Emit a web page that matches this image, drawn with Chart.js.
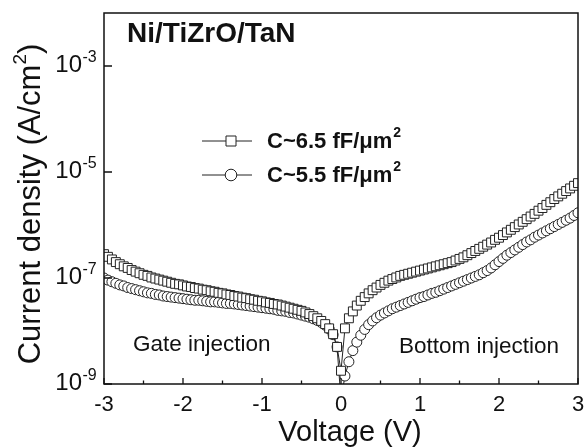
<!DOCTYPE html>
<html><head><meta charset="utf-8">
<script src="https://cdn.jsdelivr.net/npm/chart.js@4.4.0/dist/chart.umd.min.js"></script>
<style>html,body{margin:0;padding:0;background:#fff}#wrap{width:586px;height:448px}</style>
</head><body><div id="wrap"><canvas id="c" width="586" height="448"></canvas></div>
<script>
// ---- data ----
const voltage = [-3,-2.95,-2.9,-2.85,-2.8,-2.75,-2.7,-2.65,-2.6,-2.55,-2.5,-2.45,-2.4,-2.35,-2.3,-2.25,-2.2,-2.15,-2.1,-2.05,
-2,-1.95,-1.9,-1.85,-1.8,-1.75,-1.7,-1.65,-1.6,-1.55,-1.5,-1.45,-1.4,-1.35,-1.3,-1.25,-1.2,-1.15,-1.1,-1.05,
-1,-0.95,-0.9,-0.85,-0.8,-0.75,-0.7,-0.65,-0.6,-0.55,-0.5,-0.45,-0.4,-0.35,-0.3,-0.25,-0.2,-0.15,-0.1,-0.05,
0,0.05,0.1,0.15,0.2,0.25,0.3,0.35,0.4,0.45,0.5,0.55,0.6,0.65,0.7,0.75,0.8,0.85,0.9,0.95,
1,1.05,1.1,1.15,1.2,1.25,1.3,1.35,1.4,1.45,1.5,1.55,1.6,1.65,1.7,1.75,1.8,1.85,1.9,1.95,
2,2.05,2.1,2.15,2.2,2.25,2.3,2.35,2.4,2.45,2.5,2.55,2.6,2.65,2.7,2.75,2.8,2.85,2.9,2.95,3];

// log10 of current density (A/cm^2)
const logJ_6p5 = [-6.55,-6.60,-6.65,-6.70,-6.74,-6.78,-6.81,-6.85,-6.88,-6.91,
-6.94,-6.96,-6.99,-7.01,-7.03,-7.05,-7.07,-7.09,-7.11,-7.12,
-7.14,-7.16,-7.17,-7.19,-7.20,-7.22,-7.23,-7.25,-7.26,-7.28,
-7.29,-7.31,-7.32,-7.34,-7.35,-7.37,-7.38,-7.40,-7.41,-7.43,
-7.44,-7.46,-7.47,-7.49,-7.50,-7.52,-7.54,-7.56,-7.58,-7.60,
-7.62,-7.65,-7.68,-7.72,-7.76,-7.81,-7.87,-7.95,-8.06,-8.30,
-8.75,
-7.95,-7.76,-7.63,-7.52,-7.43,-7.36,-7.29,-7.23,-7.18,-7.13,
-7.09,-7.05,-7.02,-6.99,-6.96,-6.94,-6.92,-6.90,-6.88,-6.86,
-6.84,-6.82,-6.80,-6.78,-6.76,-6.74,-6.72,-6.70,-6.67,-6.64,
-6.61,-6.57,-6.53,-6.49,-6.45,-6.41,-6.37,-6.33,-6.28,-6.24,
-6.19,-6.14,-6.09,-6.04,-5.99,-5.94,-5.89,-5.84,-5.79,-5.73,
-5.68,-5.62,-5.57,-5.51,-5.46,-5.41,-5.36,-5.31,-5.26,-5.21];

const logJ_5p5 = [-7.00,-7.04,-7.07,-7.10,-7.13,-7.15,-7.18,-7.20,-7.22,-7.24,
-7.26,-7.28,-7.29,-7.31,-7.32,-7.34,-7.35,-7.36,-7.37,-7.38,
-7.39,-7.40,-7.41,-7.42,-7.42,-7.43,-7.44,-7.45,-7.45,-7.46,
-7.47,-7.48,-7.48,-7.49,-7.50,-7.51,-7.52,-7.53,-7.54,-7.55,
-7.56,-7.57,-7.58,-7.59,-7.61,-7.62,-7.63,-7.65,-7.66,-7.68,
-7.70,-7.72,-7.74,-7.77,-7.80,-7.84,-7.89,-7.96,-8.07,-8.30,
-9.30,
-8.85,-8.58,-8.37,-8.21,-8.08,-7.97,-7.88,-7.81,-7.75,-7.70,
-7.66,-7.62,-7.58,-7.55,-7.52,-7.49,-7.46,-7.43,-7.40,-7.37,
-7.35,-7.32,-7.29,-7.27,-7.24,-7.21,-7.18,-7.15,-7.12,-7.09,
-7.06,-7.03,-7.00,-6.97,-6.94,-6.90,-6.86,-6.81,-6.75,-6.69,
-6.63,-6.57,-6.52,-6.47,-6.42,-6.37,-6.32,-6.28,-6.23,-6.19,
-6.15,-6.11,-6.07,-6.03,-5.99,-5.95,-5.91,-5.87,-5.82,-5.77];

const seriesLabels = ['C~6.5 fF/\u03bcm', 'C~5.5 fF/\u03bcm'];
const seriesSup = '2';
const xTickValues = [-3,-2,-1,0,1,2,3];
const xMinorTickValues = [-2.5,-1.5,-0.5,0.5,1.5,2.5];
const yTickExponents = [-9,-7,-5,-3];
const chartTitle = 'Ni/TiZrO/TaN';
const xTitle = 'Voltage (V)';
const yTitle = ['Current density (A/cm', '2', ')'];
const noteLeft = 'Gate injection';
const noteRight = 'Bottom injection';

// ---- chart ----
const FONT = '"Liberation Sans", Arial, sans-serif';
const toPts = (lj) => voltage.map((v, i) => ({x: v, y: Math.pow(10, lj[i])}));

const deco = {
  id: 'deco',
  afterDraw(chart) {
    const {ctx, chartArea: a, scales: {x, y}} = chart;
    ctx.save();
    ctx.strokeStyle = '#111';
    ctx.fillStyle = '#111';
    // frame
    ctx.lineWidth = 1.5;
    ctx.strokeRect(a.left, a.top, a.right - a.left, a.bottom - a.top);
    // ticks
    ctx.lineWidth = 1.3;
    ctx.beginPath();
    xTickValues.forEach(v => { const p = x.getPixelForValue(v); ctx.moveTo(p, a.bottom); ctx.lineTo(p, a.bottom - 6); });
    xMinorTickValues.forEach(v => { const p = x.getPixelForValue(v); ctx.moveTo(p, a.bottom); ctx.lineTo(p, a.bottom - 3.5); });
    yTickExponents.forEach(e => { const p = y.getPixelForValue(Math.pow(10, e)); ctx.moveTo(a.left, p); ctx.lineTo(a.left + 8, p); });
    ctx.stroke();
    // x tick labels
    ctx.font = '22px ' + FONT;
    ctx.textAlign = 'center'; ctx.textBaseline = 'middle';
    xTickValues.forEach(v => ctx.fillText(String(v), x.getPixelForValue(v), a.bottom + 21));
    // y tick labels 10^e
    yTickExponents.forEach(e => {
      const p = y.getPixelForValue(Math.pow(10, e));
      ctx.font = '24px ' + FONT; ctx.textAlign = 'right'; ctx.textBaseline = 'middle';
      ctx.fillText('10', 82, p - 1);
      ctx.font = '16px ' + FONT; ctx.textAlign = 'left';
      ctx.fillText(String(e), 82.5, p - 8);
    });
    // axis titles
    ctx.font = '29px ' + FONT; ctx.textAlign = 'center'; ctx.textBaseline = 'middle';
    ctx.fillText(xTitle, 350, a.bottom + 49);
    ctx.save();
    ctx.translate(31, 204); ctx.rotate(-Math.PI / 2);
    ctx.font = '31px ' + FONT;
    const w1 = ctx.measureText(yTitle[0]).width, w3 = ctx.measureText(yTitle[2]).width;
    ctx.font = '19px ' + FONT;
    const w2 = ctx.measureText(yTitle[1]).width;
    let sx = -(w1 + w2 + w3) / 2;
    ctx.textAlign = 'left';
    ctx.font = '31px ' + FONT; ctx.fillText(yTitle[0], sx, 0);
    ctx.font = '19px ' + FONT; ctx.fillText(yTitle[1], sx + w1, -10);
    ctx.font = '31px ' + FONT; ctx.fillText(yTitle[2], sx + w1 + w2, 0);
    ctx.restore();
    // chart title
    ctx.font = 'bold 28px ' + FONT; ctx.textAlign = 'left'; ctx.textBaseline = 'middle';
    ctx.fillText(chartTitle, 127, 34);
    // notes
    ctx.font = '22.5px ' + FONT;
    ctx.fillText(noteLeft, 133, 345);
    ctx.fillText(noteRight, 399, 347);
    // legend
    const rows = [141, 175];
    rows.forEach((ry, i) => {
      ctx.lineWidth = 1;
      ctx.strokeStyle = '#222';
      ctx.beginPath(); ctx.moveTo(202, ry); ctx.lineTo(252, ry); ctx.stroke();
      ctx.fillStyle = '#fff';
      ctx.beginPath();
      if (i === 0) ctx.rect(226, ry - 5, 10, 10); else ctx.arc(231, ry, 5.8, 0, Math.PI * 2);
      ctx.fill(); ctx.stroke();
      ctx.fillStyle = '#111';
      ctx.font = 'bold 22px ' + FONT; ctx.textAlign = 'left'; ctx.textBaseline = 'middle';
      ctx.fillText(seriesLabels[i], 267, ry + 1);
      const tw = ctx.measureText(seriesLabels[i]).width;
      ctx.font = 'bold 14px ' + FONT;
      ctx.fillText(seriesSup, 267 + tw + 1, ry - 8);
    });
    ctx.restore();
  }
};

new Chart(document.getElementById('c'), {
  type: 'line',
  data: {
    datasets: [
      { label: seriesLabels[0], data: toPts(logJ_6p5), borderColor: '#222', borderWidth: 1,
        pointStyle: 'rect', pointRadius: 6.3, pointBackgroundColor: '#fff', pointBorderColor: '#222', pointBorderWidth: 1, tension: 0 },
      { label: seriesLabels[1], data: toPts(logJ_5p5), borderColor: '#222', borderWidth: 1,
        pointStyle: 'circle', pointRadius: 5, pointBackgroundColor: '#fff', pointBorderColor: '#222', pointBorderWidth: 1, tension: 0 }
    ]
  },
  options: {
    responsive: false, animation: false, devicePixelRatio: 1,
    layout: { padding: { top: 13, right: 8, left: 0, bottom: 0 } },
    plugins: { legend: { display: false }, tooltip: { enabled: false } },
    scales: {
      x: { type: 'linear', min: -3, max: 3, grid: { display: false }, border: { display: false },
           ticks: { display: false }, afterFit: s => { s.height = 64; } },
      y: { type: 'logarithmic', min: 1e-9, max: 1e-2, grid: { display: false }, border: { display: false },
           ticks: { display: false }, afterFit: s => { s.width = 104; } }
    }
  },
  plugins: [deco]
});
</script></body></html>
